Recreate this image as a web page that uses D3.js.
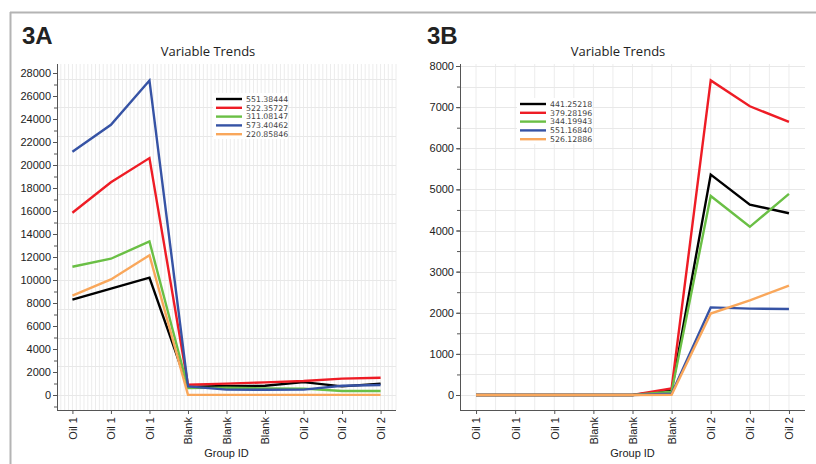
<!DOCTYPE html>
<html>
<head>
<meta charset="utf-8">
<script src="https://cdn.jsdelivr.net/npm/d3@7"></script>
<style>
  body { margin: 0; background: #fff; }
  svg { display: block; }
  .tick text { font-family: "Liberation Sans", Arial, sans-serif; fill: #222; }
</style>
</head>
<body>
<div class="figure"></div>
<script>
// group labels on the x axis (same for both panels)
const groupIds = ["Oil 1", "Oil 1", "Oil 1", "Blank", "Blank", "Blank", "Oil 2", "Oil 2", "Oil 2"];
const seriesColors = ["#000000", "#ee1c25", "#6abf45", "#3653a5", "#f9a75b"];

// panel 3A
const namesA = ["551.38444", "522.35727", "311.08147", "573.40462", "220.85846"];
const blackA = [8290, 9245, 10200, 700, 790, 800, 1120, 750, 990];
const redA = [15850, 18500, 20600, 900, 990, 1100, 1220, 1420, 1500];
const greenA = [11150, 11850, 13350, 600, 640, 580, 550, 350, 350];
const blueA = [21150, 23500, 27350, 750, 470, 460, 470, 810, 870];
const orangeA = [8650, 10050, 12150, 10, 10, 10, 10, 10, 10];

// panel 3B
const namesB = ["441.25218", "379.28196", "344.19943", "551.16840", "526.12886"];
const blackB = [0, 0, 0, 0, 0, 110, 5360, 4630, 4420];
const redB = [0, 0, 0, 0, 0, 160, 7650, 7020, 6640];
const greenB = [0, 0, 0, 0, 0, 80, 4840, 4090, 4890];
const blueB = [0, 0, 0, 0, 0, 30, 2130, 2100, 2090];
const orangeB = [0, 0, 0, 0, 0, 5, 1980, 2300, 2660];

const width = 816;
const height = 464;

let svg = d3
  .select(".figure")
  .append("svg")
  .attr("width", width)
  .attr("height", height)
  .attr("viewBox", `0 0 ${width} ${height}`);

// grey frame of the figure
svg.append("line")
  .attr("x1", 10).attr("y1", 12.5).attr("x2", width).attr("y2", 12.5)
  .attr("stroke", "#b4b4b4").attr("stroke-width", 2);
svg.append("line")
  .attr("x1", 10.5).attr("y1", 12).attr("x2", 10.5).attr("y2", height)
  .attr("stroke", "#b4b4b4").attr("stroke-width", 2);

function drawPanel(p) {
  const g = svg.append("g");

  const x = d3.scalePoint()
    .domain(d3.range(groupIds.length))
    .range([p.left, p.right])
    .padding(p.pad);

  const y = d3.scaleLinear()
    .domain([0, p.yMax])
    .range([395, p.yTopPx]);

  const top = 64, bottom = 410;

  // vertical grid
  const step = x.step();
  const vLines = [];
  for (let k = -20; k <= 8 * p.vDiv + 20; k++) {
    const xv = x(0) + k * step / p.vDiv;
    if (xv > p.left + 1 && xv <= p.right) vLines.push(xv);
  }
  g.append("g").selectAll("line")
    .data(vLines).enter().append("line")
      .attr("x1", d => d).attr("x2", d => d)
      .attr("y1", top).attr("y2", bottom)
      .attr("stroke", "#ececec").attr("stroke-width", 1);

  // horizontal grid
  g.append("g").selectAll("line")
    .data(d3.range(0, p.yMax + 1, p.gridStep)).enter().append("line")
      .attr("x1", p.left).attr("x2", p.right)
      .attr("y1", d => Math.round(y(d)) + 0.5).attr("y2", d => Math.round(y(d)) + 0.5)
      .attr("stroke", "#e8e8e8").attr("stroke-width", 1);

  // y axis: minor then major ticks
  const minorVals = d3.range(-p.minorStep, p.yMax + 1, p.minorStep)
    .filter(v => y(v) <= bottom && y(v) >= top);
  g.append("g")
    .attr("transform", `translate(${p.left},0)`)
    .call(d3.axisLeft(y).tickValues(minorVals).tickSize(3).tickFormat(""))
    .call(a => a.select(".domain").remove())
    .call(a => a.selectAll("line").attr("stroke", "#555"));
  g.append("g")
    .attr("transform", `translate(${p.left},0)`)
    .call(d3.axisLeft(y)
      .tickValues(d3.range(0, p.yMax + 1, p.majorStep))
      .tickFormat(d3.format("d"))
      .tickSize(4).tickPadding(2))
    .call(a => a.select(".domain").remove())
    .call(a => a.selectAll("line").attr("stroke", "#555"))
    .call(a => a.selectAll("text").attr("font-size", 11));

  // x axis
  g.append("g")
    .attr("transform", `translate(0,${bottom})`)
    .call(d3.axisBottom(x).tickSize(4).tickFormat(i => groupIds[i]))
    .call(a => a.select(".domain").remove())
    .call(a => a.selectAll("line").attr("stroke", "#555"))
    .call(a => a.selectAll("text")
      .attr("font-size", 11)
      .attr("transform", "rotate(-90)")
      .attr("text-anchor", "end")
      .attr("x", -7)
      .attr("y", 0)
      .attr("dy", "0.35em"));

  // axis lines
  g.append("line")
    .attr("x1", p.left + 0.5).attr("x2", p.left + 0.5)
    .attr("y1", top).attr("y2", bottom + 0.5)
    .attr("stroke", "#555");
  g.append("line")
    .attr("x1", p.left).attr("x2", p.right)
    .attr("y1", bottom + 0.5).attr("y2", bottom + 0.5)
    .attr("stroke", "#555");

  // series lines
  const line = d3.line()
    .x((d, i) => x(i))
    .y(d => y(d));
  g.append("g").selectAll("path")
    .data(p.series).enter().append("path")
      .attr("d", d => line(d))
      .attr("fill", "none")
      .attr("stroke", (d, i) => seriesColors[i])
      .attr("stroke-width", 2.4)
      .attr("stroke-linejoin", "miter");

  // legend
  const leg = g.append("g").attr("transform", `translate(${p.legX},${p.legY})`);
  leg.append("rect")
    .attr("x", -3).attr("y", -6)
    .attr("width", 75).attr("height", 46)
    .attr("fill", "#fff");
  const rows = leg.selectAll("g")
    .data(p.names).enter().append("g")
      .attr("transform", (d, i) => `translate(0,${i * 8.8})`);
  rows.append("line")
    .attr("x1", 0).attr("x2", 26).attr("y1", 0).attr("y2", 0)
    .attr("stroke", (d, i) => seriesColors[i])
    .attr("stroke-width", 2.4);
  rows.append("text")
    .attr("x", 30).attr("y", 0).attr("dy", "0.35em")
    .attr("font-family", "DejaVu Sans, sans-serif")
    .attr("font-size", 7.8)
    .attr("fill", "#444")
    .text(d => d);

  // titles
  g.append("text")
    .attr("x", p.panelX).attr("y", 44)
    .attr("font-family", "Liberation Sans, Arial, sans-serif")
    .attr("font-weight", "bold")
    .attr("font-size", 24)
    .attr("fill", "#222")
    .text(p.panel);
  g.append("text")
    .attr("x", p.titleX).attr("y", 56)
    .attr("text-anchor", "middle")
    .attr("font-family", "Open Sans, sans-serif")
    .attr("font-size", 13)
    .attr("fill", "#222")
    .text("Variable Trends");
  g.append("text")
    .attr("x", (p.left + p.right) / 2).attr("y", 457)
    .attr("text-anchor", "middle")
    .attr("font-family", "Liberation Sans, Arial, sans-serif")
    .attr("font-size", 11)
    .attr("fill", "#222")
    .text("Group ID");
}

drawPanel({
  panel: "3A", panelX: 22, titleX: 208,
  left: 57, right: 396, pad: 0.4,
  yMax: 28000, yTopPx: 73, majorStep: 2000, minorStep: 1000, gridStep: 2500,
  vDiv: 10,
  legX: 216, legY: 99,
  names: namesA,
  series: [blackA, redA, greenA, blueA, orangeA]
});

drawPanel({
  panel: "3B", panelX: 427, titleX: 618,
  left: 460, right: 805, pad: 0.41,
  yMax: 8000, yTopPx: 66, majorStep: 1000, minorStep: 500, gridStep: 500,
  vDiv: 2,
  legX: 520, legY: 104,
  names: namesB,
  series: [blackB, redB, greenB, blueB, orangeB]
});
</script>
</body>
</html>
